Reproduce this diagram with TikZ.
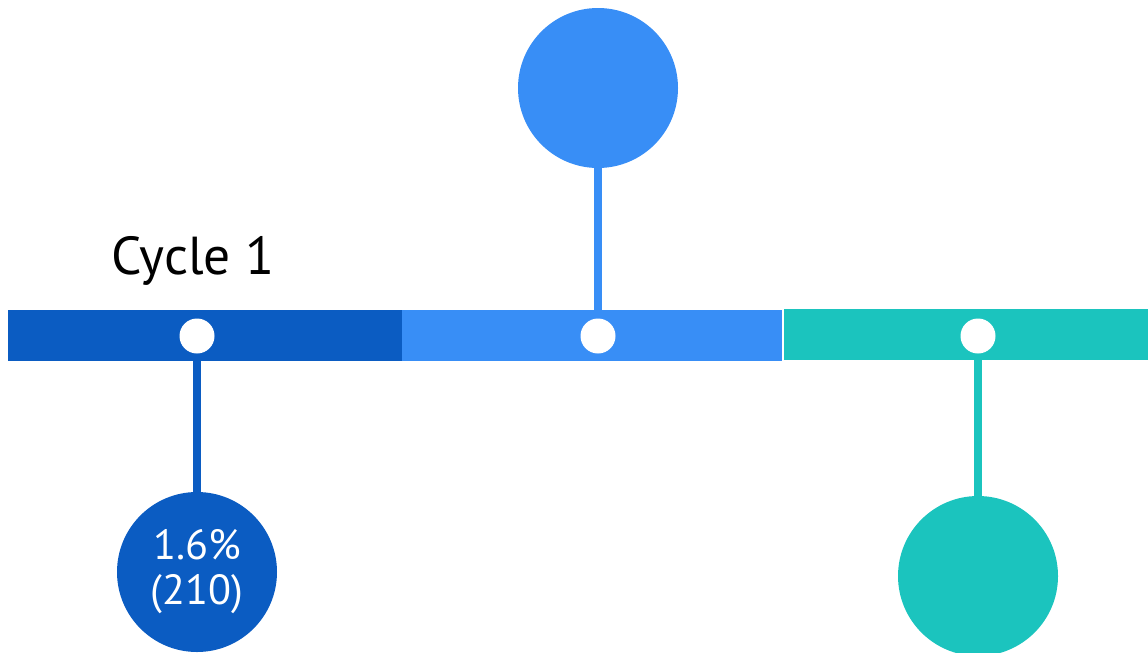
\documentclass[tikz,border=0pt]{standalone}
\usepackage{fontspec}
\setmainfont{PT Sans}
\definecolor{darkblue}{HTML}{0B5CC2}
\definecolor{midblue}{HTML}{388EF6}
\definecolor{teal}{HTML}{1BC4BE}
\tikzset{
bigdot/.style={circle, inner sep=0pt, minimum size=160*0.025cm, text=white, align=center, font=\fontsize{30}{32}\selectfont},
smalldot/.style={circle, fill=white, inner sep=0pt, minimum size=35*0.025cm},
stem/.style={line width=6.2pt}
}

\begin{document}
\begin{tikzpicture}[x=0.025cm, y=-0.025cm]
\useasboundingbox (0,0) rectangle (1148,652);
% the bar
\fill[darkblue] (8,310) rectangle (402,361);
\fill[midblue] (402,310) rectangle (782,361);
\fill[teal] (784,309) rectangle (1148,360);
\node[smalldot] (d1) at (197,336) {};
\node[smalldot] (d2) at (598,336) {};
\node[smalldot] (d3) at (978,336) {};
% circles
\node[bigdot, fill=midblue] (c2) at (598,88) {};
\node[bigdot, fill=darkblue] (c1) at (197,572) {1.6\%\\(210)};
\node[bigdot, fill=teal] (c3) at (978,576) {};
\draw[stem, midblue] (c2) -- (d2);
\draw[stem, darkblue] (d1) -- (c1);
\draw[stem, teal] (d3) -- (c3);
\node[font=\fontsize{38}{40}\selectfont] (lbl) at (193,261) {Cycle 1};
\end{tikzpicture}
\end{document}
